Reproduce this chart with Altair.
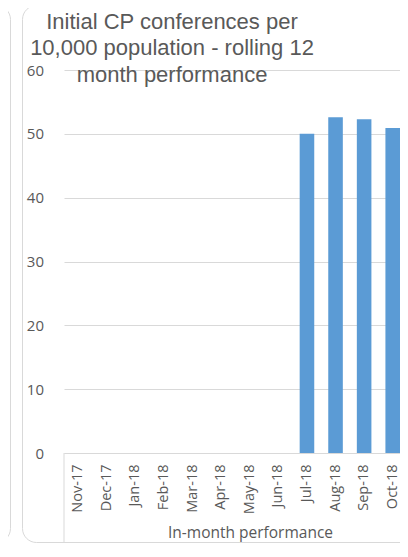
import altair as alt
import pandas as pd

months = ["Nov-17", "Dec-17", "Jan-18", "Feb-18", "Mar-18", "Apr-18",
          "May-18", "Jun-18", "Jul-18", "Aug-18", "Sep-18", "Oct-18"]
values = [None, None, None, None, None, None, None, None, 50.0, 52.6, 52.3, 50.9]
title_lines = ["Initial CP conferences per", "10,000 population - rolling 12", "month performance"]
y_ticks = [0, 10, 20, 30, 40, 50, 60]
x_title = "In-month performance"

df = pd.DataFrame({"month": months, "value": values})
deco = pd.DataFrame({"k": [0]})

GRAY = "#595959"
LINE = "#d9d9d9"
BLUE = "#5b9bd5"
AXFONT = "Open Sans"

bars = alt.Chart(df).mark_bar(color=BLUE).encode(
    x=alt.X(
        "month:N",
        sort=months,
        scale=alt.Scale(domain=months, range=[0, 343],
                        paddingInner=0.49, paddingOuter=0.245),
        axis=alt.Axis(
            title=x_title, labelAngle=270, labelFont=AXFONT, labelFontSize=14.5,
            labelColor=GRAY, labelPadding=11, ticks=False, tickSize=0,
            domainColor=LINE, grid=False,
            titleFont=AXFONT, titleFontSize=15.5, titleColor=GRAY,
            titleFontWeight="normal", titleX=186, titleY=84,
            titleAlign="center", titleBaseline="alphabetic",
        ),
    ),
    y=alt.Y(
        "value:Q",
        scale=alt.Scale(domain=[0, 60]),
        axis=alt.Axis(
            values=y_ticks, title=None, domain=False, ticks=False, tickSize=0,
            labelPadding=20.5, gridColor=LINE, labelFont=AXFONT,
            labelFontSize=15, labelColor=GRAY,
        ),
    ),
)

main_border = alt.Chart(deco).mark_rect(
    filled=False, stroke=LINE, strokeWidth=1, cornerRadius=14
).encode(
    x=alt.value(-41.5), x2=alt.value(420), y=alt.value(-64.5), y2=alt.value(472.5)
)

left_border = alt.Chart(deco).mark_rect(
    filled=False, stroke=LINE, strokeWidth=1, cornerRadius=14
).encode(
    x=alt.value(-140), x2=alt.value(-53.5), y=alt.value(-64.5), y2=alt.value(472.5)
)

left_rule = alt.Chart(deco).mark_rule(color=LINE, strokeWidth=1).encode(
    x=alt.value(0), y=alt.value(383), y2=alt.value(500)
)

chart = alt.layer(main_border, left_border, left_rule, bars).properties(
    width=336,
    height=383,
    autosize=alt.AutoSizeParams(type="none"),
    padding={"left": 56, "top": 62, "right": 0, "bottom": 90},
    title=alt.TitleParams(
        text=title_lines, font="Liberation Sans", fontSize=22,
        fontWeight="normal", color=GRAY, anchor="start", frame="group",
        align="center", dx=108, lineHeight=26.7, baseline="alphabetic",
        offset=-99,
    ),
).configure_view(stroke=None)

chart.save("out.html", embed_options={"renderer": "svg", "actions": False})
